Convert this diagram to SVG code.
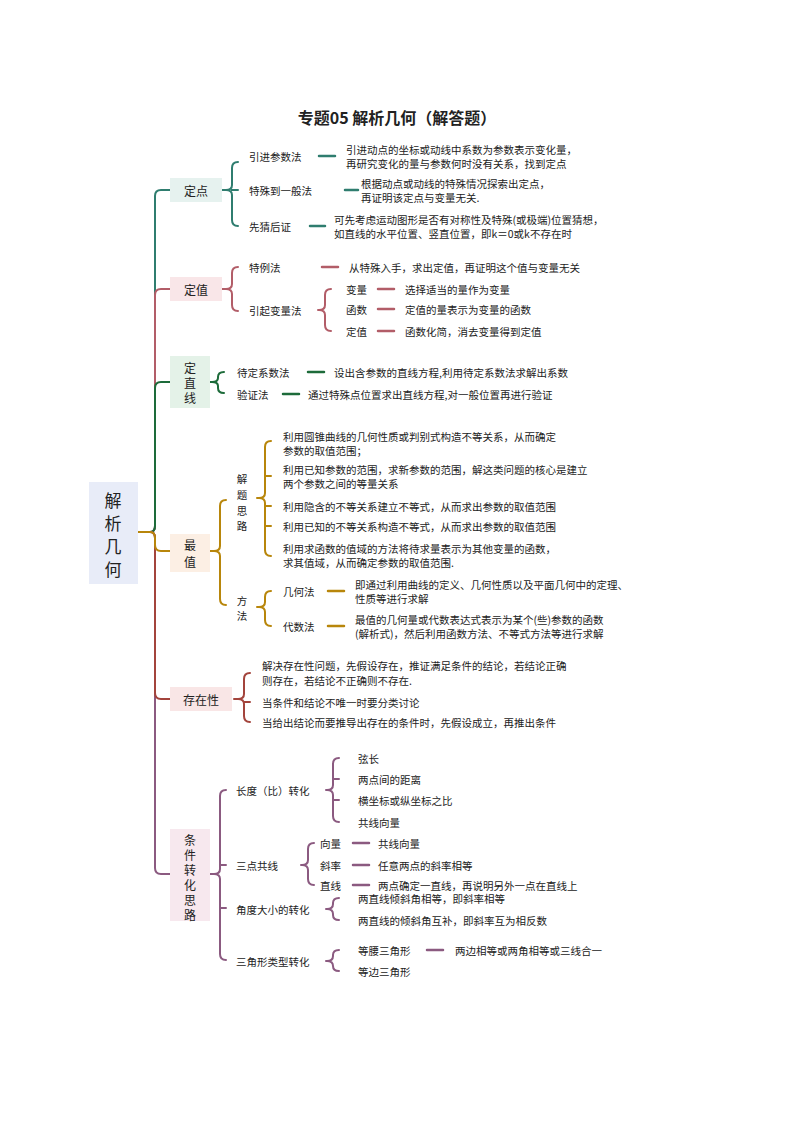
<svg xmlns="http://www.w3.org/2000/svg" width="794" height="1123" viewBox="0 0 794 1123">
<style>
text{font-family:"Noto Sans CJK SC","Liberation Sans",sans-serif;font-size:10.5px;fill:#222;dominant-baseline:central}
.t{font-size:16px;font-weight:bold;text-anchor:middle}
.r{font-size:17px;text-anchor:middle}
.b{fill:none;stroke-width:2;stroke-linecap:round}
.d{stroke-width:2.5}
.teal{stroke:#2f7d6f}.rose{stroke:#b25d68}.green{stroke:#1d6b3a}.gold{stroke:#b8860b}.red{stroke:#a3443c}.pur{stroke:#8b5a80}
.n{text-anchor:middle;font-size:12px}
.m{text-anchor:middle}
</style>
<rect width="794" height="1123" fill="#fff"/>
<text class="t" x="397" y="117">专题05  解析几何（解答题）</text>
<g id="connectors">
<path class="b teal" d="M138 532 H150 Q155 532 155 526 V196 Q155 190 161 190 H170"/>
<path class="b rose" d="M138 532 H150 Q155 532 155 526 V295 Q155 289 161 289 H170"/>
<path class="b green" d="M138 532 H150 Q155 532 155 526 V388 Q155 382 161 382 H170"/>
<path class="b pur" d="M138 532 H150 Q155 532 155 538 V868 Q155 874 161 874 H170"/>
<path class="b red" d="M138 532 H150 Q155 532 155 538 V693 Q155 699 161 699 H170"/>
<path class="b gold" d="M138 532 H150 Q155 532 155 538 V545 Q155 551 161 551 H170"/>
<path class="b teal" d="M222 190 H226 M238 162 Q232 162 232 168 V185 Q232 190 226 190 Q232 190 232 195 V220 Q232 226 238 226 M232 190 H238"/>
<path class="b teal d" d="M319 156 H335 M345 190 H358 M310 226 H325"/>
<path class="b rose" d="M222 289 H226 M238 267 Q232 267 232 273 V284 Q232 289 226 289 Q232 289 232 294 V305 Q232 311 238 311"/>
<path class="b rose" d="M318 310 H321 M331 289 Q325 289 325 295 V305 Q325 310 319 310 Q325 310 325 315 V325 Q325 331 331 331"/>
<path class="b rose d" d="M322 267 H338 M378 289 H394 M378 309 H394 M378 331 H394"/>
<path class="b green" d="M210 382 H213 M224 372 Q218 372 218 377 V378 Q218 382 212 382 Q218 382 218 386 V388 Q218 393 224 393"/>
<path class="b green d" d="M308 372 H324 M283 394 H299"/>
<path class="b gold" d="M210 551 H214 M226 500 Q220 500 220 506 V546 Q220 551 214 551 Q220 551 220 556 V599 Q220 605 226 605"/>
<path class="b gold" d="M257 498 H259 M271 441 Q265 441 265 447 V493 Q265 498 259 498 Q265 498 265 503 V550 Q265 556 271 556 M265 476 H271 M265 506 H271 M265 526 H271"/>
<path class="b gold" d="M257 607 H259 M271 591 Q265 591 265 597 V602 Q265 607 259 607 Q265 607 265 612 V620 Q265 626 271 626"/>
<path class="b gold d" d="M328 591 H344 M328 626 H344"/>
<path class="b red" d="M234 699 H238 M250 673 Q244 673 244 679 V694 Q244 699 238 699 Q244 699 244 704 V716 Q244 722 250 722 M244 702 H250"/>
<path class="b pur" d="M210 874 H214 M226 790 Q220 790 220 796 V869 Q220 874 214 874 Q220 874 220 879 V954 Q220 960 226 960 M220 865 H226 M220 908 H226"/>
<path class="b pur" d="M326 790 H327 M339 758 Q333 758 333 764 V785 Q333 790 327 790 Q333 790 333 795 V816 Q333 822 339 822 M333 779 H339 M333 800 H339"/>
<path class="b pur" d="M301 865 H302 M314 843 Q308 843 308 849 V860 Q308 865 302 865 Q308 865 308 870 V879 Q308 885 314 885"/>
<path class="b pur" d="M326 909 H327 M339 898 Q333 898 333 903 V904 Q333 909 327 909 Q333 909 333 914 V915 Q333 920 339 920"/>
<path class="b pur" d="M326 961 H327 M339 950 Q333 950 333 955 V956 Q333 961 327 961 Q333 961 333 966 V966 Q333 971 339 971"/>
<path class="b pur d" d="M353 843 H369 M353 865 H369 M353 885 H369 M427 950 H443"/>
</g>
<g id="root"><rect x="89" y="482" width="49" height="102" fill="#e8ecf8"/>
<text class="r" x="113" y="499">解</text><text class="r" x="113" y="522">析</text><text class="r" x="113" y="545">几</text><text class="r" x="113" y="568">何</text></g>
<g id="n-dingdian"><rect x="170" y="178" width="52" height="24" fill="#e6f2ef"/><text class="n" x="196" y="190">定点</text>
<text x="249" y="156">引进参数法</text><text x="346" y="149">引进动点的坐标或动线中系数为参数表示变化量，</text><text x="346" y="163">再研究变化的量与参数何时没有关系，找到定点</text>
<text x="249" y="190">特殊到一般法</text><text x="361" y="183">根据动点或动线的特殊情况探索出定点，</text><text x="361" y="197">再证明该定点与变量无关.</text>
<text x="249" y="226">先猜后证</text><text x="334" y="219">可先考虑运动图形是否有对称性及特殊(或极端)位置猜想，</text><text x="334" y="233">如直线的水平位置、竖直位置，即k＝0或k不存在时</text></g>
<g id="n-dingzhi"><rect x="170" y="277" width="52" height="24" fill="#f9e6e8"/><text class="n" x="196" y="289">定值</text>
<text x="249" y="267">特例法</text><text x="349" y="267">从特殊入手，求出定值，再证明这个值与变量无关</text>
<text x="249" y="310">引起变量法</text>
<text x="346" y="289">变量</text><text x="405" y="289">选择适当的量作为变量</text>
<text x="346" y="309">函数</text><text x="405" y="309">定值的量表示为变量的函数</text>
<text x="346" y="331">定值</text><text x="405" y="331">函数化简，消去变量得到定值</text></g>
<g id="n-dingzhixian"><rect x="170" y="356" width="40" height="52" fill="#e4f2e8"/><text class="n" x="190" y="367">定</text><text class="n" x="190" y="382">直</text><text class="n" x="190" y="397">线</text>
<text x="237" y="372">待定系数法</text><text x="334" y="372">设出含参数的直线方程,利用待定系数法求解出系数</text>
<text x="237" y="394">验证法</text><text x="308" y="394">通过特殊点位置求出直线方程,对一般位置再进行验证</text></g>
<g id="n-zuizhi"><rect x="170" y="534" width="40" height="38" fill="#fcefe4"/><text class="n" x="190" y="544">最</text><text class="n" x="190" y="561">值</text>
<text class="m" x="242" y="478">解</text><text class="m" x="242" y="494">题</text><text class="m" x="242" y="510">思</text><text class="m" x="242" y="525">路</text>
<text x="283" y="436">利用圆锥曲线的几何性质或判别式构造不等关系，从而确定</text><text x="283" y="450">参数的取值范围；</text>
<text x="283" y="469">利用已知参数的范围，求新参数的范围，解这类问题的核心是建立</text><text x="283" y="483">两个参数之间的等量关系</text>
<text x="283" y="506">利用隐含的不等关系建立不等式，从而求出参数的取值范围</text>
<text x="283" y="526">利用已知的不等关系构造不等式，从而求出参数的取值范围</text>
<text x="283" y="548">利用求函数的值域的方法将待求量表示为其他变量的函数，</text><text x="283" y="562">求其值域，从而确定参数的取值范围.</text>
<text class="m" x="242" y="600">方</text><text class="m" x="242" y="615">法</text>
<text x="283" y="591">几何法</text><text x="355" y="584">即通过利用曲线的定义、几何性质以及平面几何中的定理、</text><text x="355" y="598">性质等进行求解</text>
<text x="283" y="626">代数法</text><text x="355" y="619">最值的几何量或代数表达式表示为某个(些)参数的函数</text><text x="355" y="633">(解析式)，然后利用函数方法、不等式方法等进行求解</text></g>
<g id="n-cunzai"><rect x="170" y="687" width="62" height="24" fill="#f9e6e6"/><text class="n" x="201" y="699">存在性</text>
<text x="262" y="665">解决存在性问题，先假设存在，推证满足条件的结论，若结论正确</text><text x="262" y="680">则存在，若结论不正确则不存在.</text>
<text x="262" y="702">当条件和结论不唯一时要分类讨论</text>
<text x="262" y="722">当给出结论而要推导出存在的条件时，先假设成立，再推出条件</text></g>
<g id="n-tiaojian"><rect x="170" y="829" width="40" height="92" fill="#f7e8ee"/><text class="n" x="190" y="839">条</text><text class="n" x="190" y="854">件</text><text class="n" x="190" y="869">转</text><text class="n" x="190" y="884">化</text><text class="n" x="190" y="899">思</text><text class="n" x="190" y="914">路</text>
<text x="236" y="790">长度（比）转化</text>
<text x="358" y="758">弦长</text><text x="358" y="779">两点间的距离</text><text x="358" y="800">横坐标或纵坐标之比</text><text x="358" y="822">共线向量</text>
<text x="236" y="865">三点共线</text>
<text x="320" y="843">向量</text><text x="378" y="843">共线向量</text>
<text x="320" y="865">斜率</text><text x="378" y="865">任意两点的斜率相等</text>
<text x="320" y="885">直线</text><text x="378" y="885">两点确定一直线，再说明另外一点在直线上</text>
<text x="236" y="909">角度大小的转化</text><text x="358" y="898">两直线倾斜角相等，即斜率相等</text><text x="358" y="920">两直线的倾斜角互补，即斜率互为相反数</text>
<text x="236" y="961">三角形类型转化</text><text x="358" y="950">等腰三角形</text><text x="455" y="950">两边相等或两角相等或三线合一</text><text x="358" y="971">等边三角形</text></g>
</svg>
